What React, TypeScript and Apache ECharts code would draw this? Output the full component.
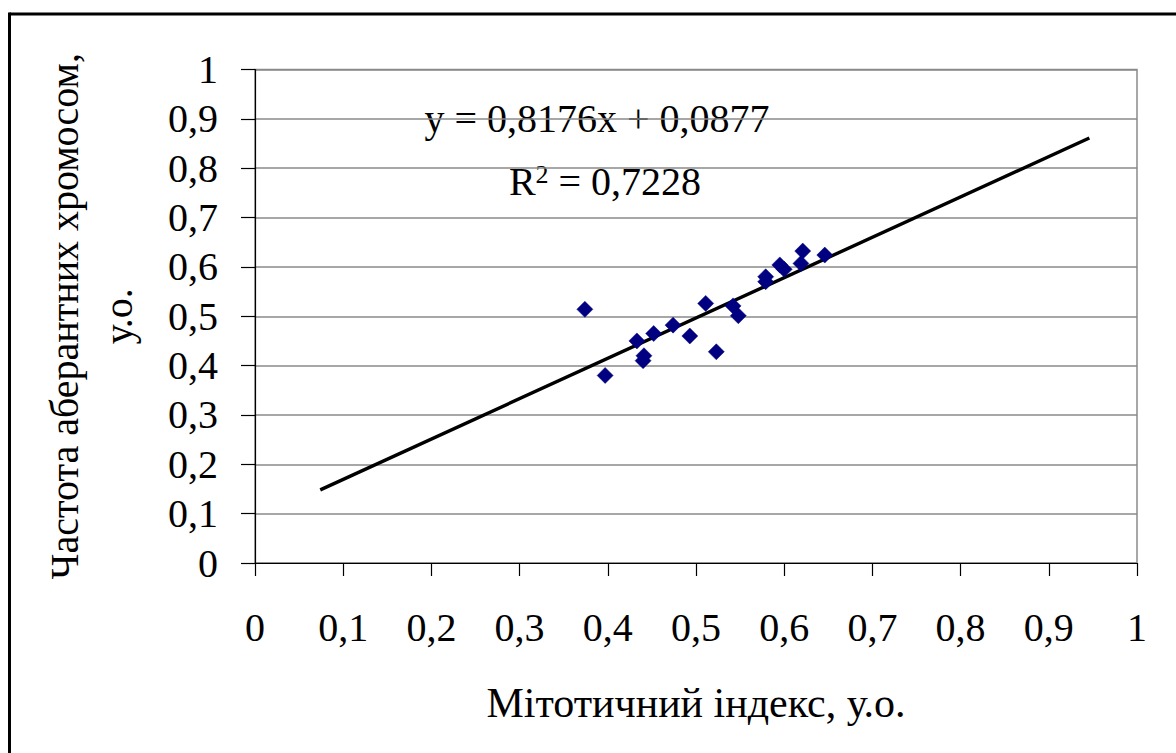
import React, { useEffect, useRef } from "react";
import * as echarts from "echarts";

// Mitotic index (x) vs. frequency of aberrant chromosomes (y)
const xValues = [0.374, 0.397, 0.433, 0.441, 0.440, 0.452, 0.474, 0.493, 0.511, 0.523, 0.542, 0.548, 0.579, 0.579, 0.595, 0.600, 0.619, 0.621, 0.646];
const yValues = [0.514, 0.380, 0.450, 0.420, 0.410, 0.465, 0.482, 0.460, 0.526, 0.428, 0.521, 0.501, 0.580, 0.570, 0.604, 0.595, 0.607, 0.632, 0.624];

// Linear trend line as printed on the chart
const slope = 0.8176;
const intercept = 0.0877;
const rSquared = "0,7228";
const forecast = 0.3; // trend extended forward/backward by this many units

const xTitle = "Мітотичний індекс, у.о.";
const yTitle = "Частота аберантних хромосом,\nу.о.";

const FONT = "Liberation Serif, Times New Roman, serif";

const fmt = (v: number) => String(+v.toFixed(1)).replace(".", ",");

export default function App() {
  const ref = useRef<HTMLDivElement>(null);
  useEffect(() => {
    if (!ref.current) return;
    const chart = echarts.init(ref.current, undefined, { renderer: "svg" });
    const points = xValues.map((x, i) => [x, yValues[i]]);
    const x0 = Math.min(...xValues) - forecast;
    const x1 = Math.max(...xValues) + forecast;
    const trend = [
      [x0, slope * x0 + intercept],
      [x1, slope * x1 + intercept],
    ];
    chart.setOption({
      animation: false,
      backgroundColor: "#fff",
      textStyle: { fontFamily: FONT },
      grid: {
        left: 255,
        right: 39,
        top: 69.5,
        bottom: 190,
        show: true,
        borderColor: "#8a8a8a",
        borderWidth: 1.5,
        backgroundColor: "transparent",
        containLabel: false,
        outerBoundsMode: "none",
      },
      xAxis: {
        type: "value",
        min: 0,
        max: 1,
        interval: 0.1,
        name: xTitle,
        nameLocation: "middle",
        nameGap: 119,
        nameTextStyle: { fontFamily: FONT, fontSize: 42, color: "#000" },
        axisLine: { show: true, onZero: false, lineStyle: { color: "#000", width: 1.2 } },
        axisTick: { show: true, inside: false, length: 13, lineStyle: { color: "#000", width: 1.2 } },
        axisLabel: { margin: 44, fontFamily: FONT, fontSize: 40, color: "#000", formatter: fmt },
        splitLine: { show: false },
      },
      yAxis: {
        type: "value",
        min: 0,
        max: 1,
        interval: 0.1,
        name: yTitle,
        nameLocation: "middle",
        nameRotate: 90,
        nameGap: 110,
        nameTextStyle: { fontFamily: FONT, fontSize: 40, lineHeight: 54, color: "#000" },
        axisLine: { show: true, onZero: false, lineStyle: { color: "#000", width: 1.2 } },
        axisTick: { show: true, inside: false, length: 14, lineStyle: { color: "#000", width: 1.2 } },
        axisLabel: { margin: 37, fontFamily: FONT, fontSize: 40, color: "#000", formatter: fmt },
        splitLine: { show: true, lineStyle: { color: "#8a8a8a", width: 1.5 } },
      },
      series: [
        {
          type: "line",
          data: trend,
          symbol: "none",
          lineStyle: { color: "#000", width: 3.4 },
          z: 2,
        },
        {
          type: "scatter",
          data: points,
          symbol: "diamond",
          symbolSize: 16,
          itemStyle: { color: "#000080", borderColor: "#000080", borderWidth: 0.5, opacity: 1 },
          z: 3,
        },
      ],
      graphic: [
        {
          type: "line",
          shape: { x1: 9.5, y1: 14, x2: 1176, y2: 14 },
          style: { stroke: "#000", lineWidth: 3 },
        },
        {
          type: "line",
          shape: { x1: 9.5, y1: 12.5, x2: 9.5, y2: 753 },
          style: { stroke: "#000", lineWidth: 3 },
        },
        {
          type: "text",
          x: 597,
          y: 118,
          style: {
            text: `y = ${String(slope).replace(".", ",")}x + ${String(intercept).replace(".", ",")}`,
            font: `40px ${FONT}`,
            fill: "#000",
            align: "center",
            verticalAlign: "middle",
          },
        },
        {
          type: "text",
          x: 605,
          y: 181,
          style: {
            text: `{a|R}{s|2}{a| = ${rSquared}}`,
            align: "center",
            verticalAlign: "middle",
            rich: {
              a: { fontFamily: FONT, fontSize: 40, lineHeight: 40, fill: "#000", verticalAlign: "bottom" },
              s: { fontFamily: FONT, fontSize: 26, lineHeight: 26, fill: "#000", verticalAlign: "top" },
            },
          },
        },
      ],
    });
    return () => chart.dispose();
  }, []);
  return (
    <div
      ref={ref}
      style={{ position: "fixed", left: 0, top: 0, width: 1176, height: 753, background: "#fff" }}
    />
  );
}
